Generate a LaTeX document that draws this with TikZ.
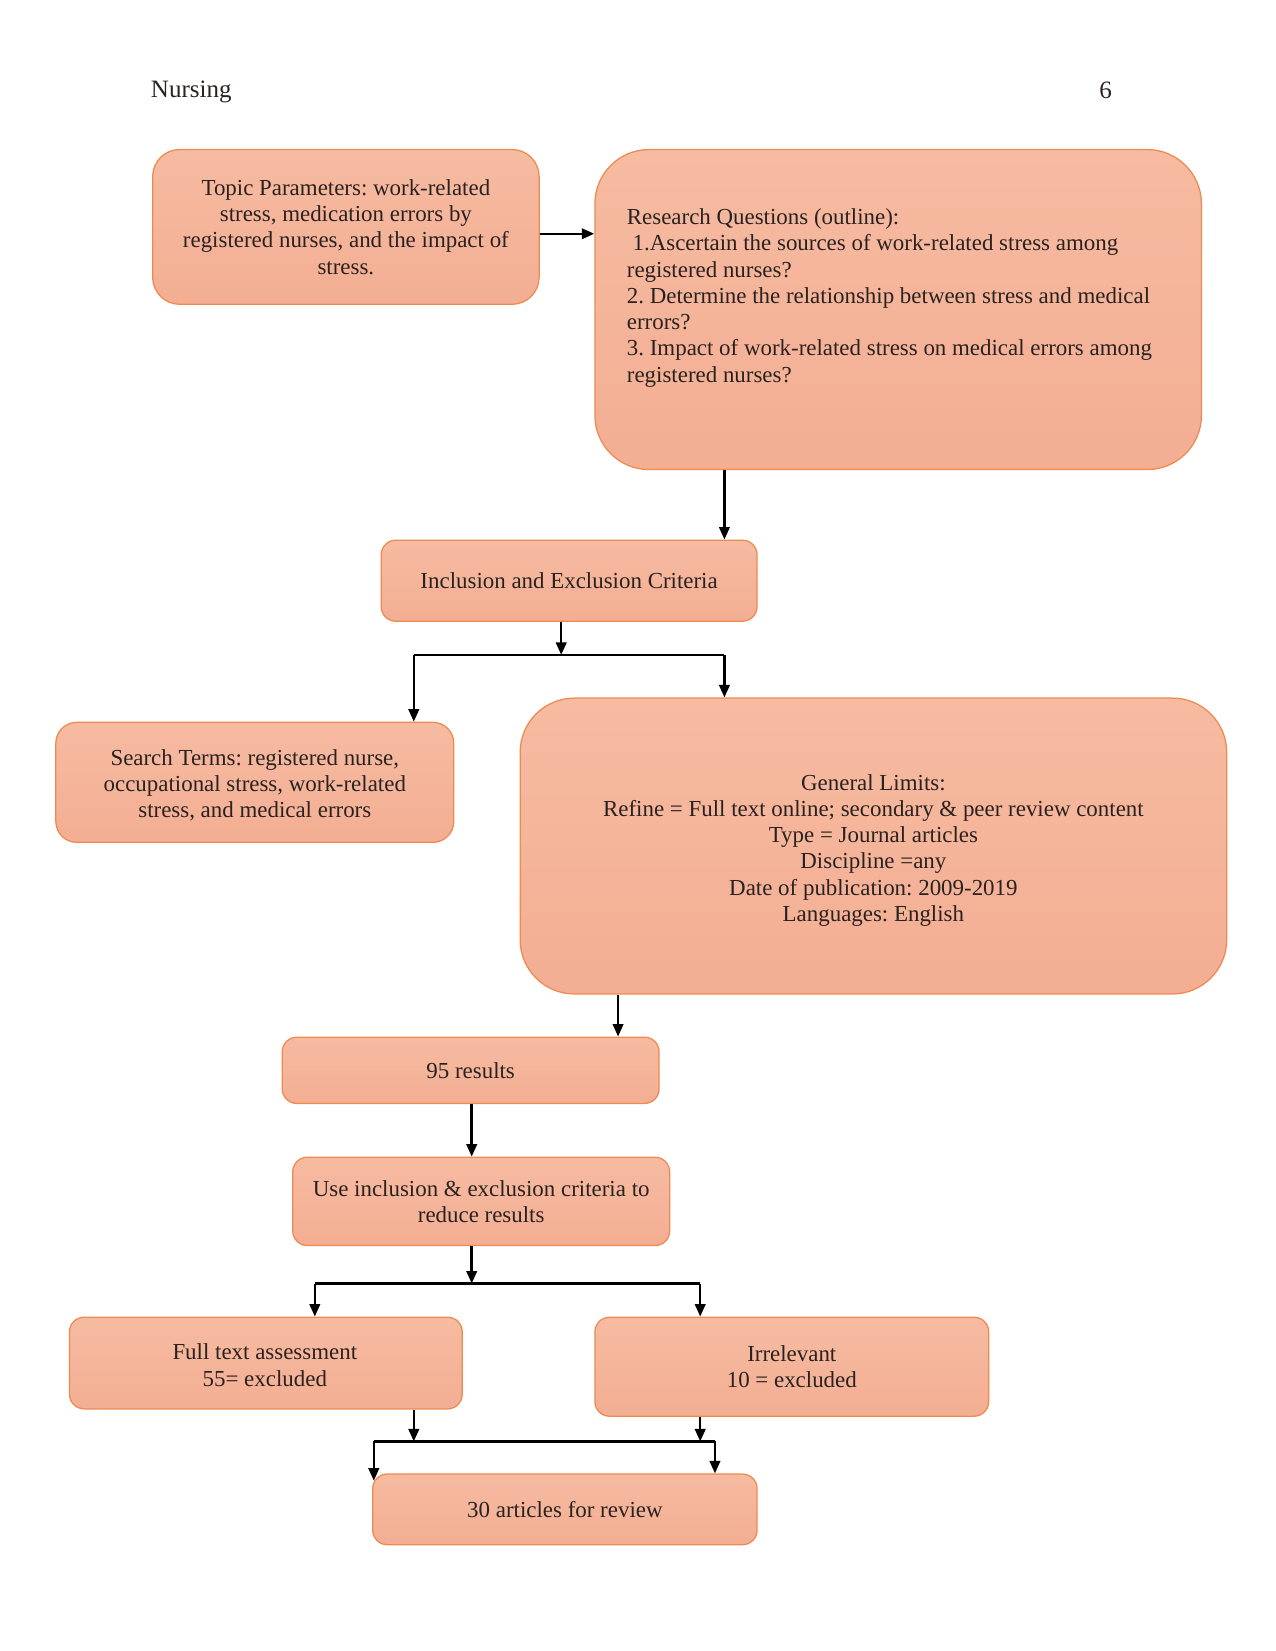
\documentclass[tikz,border=0pt]{standalone}
\usepackage{fontspec}
\setmainfont{Liberation Serif}
\usetikzlibrary{arrows.meta}
\frenchspacing
\definecolor{boxline}{HTML}{EE8A50}
\definecolor{boxtop}{HTML}{F6BBA1}
\definecolor{boxbot}{HTML}{F3AE93}
\definecolor{txt}{HTML}{2A2220}
\tikzset{
  box/.style={draw=boxline, line width=0.6pt, top color=boxtop, bottom color=boxbot,
    rounded corners=7pt, align=center, inner sep=0pt, text=txt,
    font=\fontsize{11}{12.6}\selectfont},
  bigbox/.style={box, rounded corners=26pt},
  plain/.style={text=txt, inner sep=0pt, font=\fontsize{11}{12.6}\selectfont},
  conn/.style={line width=1.2pt, black},
  arr/.style={conn, -{Triangle[length=6pt,width=5pt]}}
}
\begin{document}
\begin{tikzpicture}[x=0.50535pt, y=-0.50535pt]
\useasboundingbox (0,0) rectangle (1211,1568);
% header
\node[plain, font=\fontsize{12}{14}\selectfont, anchor=west] (hdl) at (143,87) {Nursing};
\node[plain, font=\fontsize{12}{14}\selectfont] (hdr) at (1050,86) {6};
% boxes
\node[box, rounded corners=13pt, minimum width=185.5pt, minimum height=74.3pt] (topic) at (328.5,215.5)
  {Topic Parameters: work-related\\stress, medication errors by\\registered nurses, and the impact of\\stress.};
\node[bigbox, minimum width=291.1pt, minimum height=153.6pt] (rq) at (853,294) {};
\node[plain, anchor=west, align=left] (rqt) at (595,283)
  {Research Questions (outline):\\
   \hspace{0.25em}1.Ascertain the sources of work-related stress among\\
   registered nurses?\\
   2. Determine the relationship between stress and medical\\
   errors?\\
   3. Impact of work-related stress on medical errors among\\
   registered nurses?};
\node[box, minimum width=180.4pt, minimum height=38.9pt] (incl) at (540.5,551.5)
  {Inclusion and Exclusion Criteria};
\node[box, rounded corners=10pt, minimum width=191pt, minimum height=57.6pt] (search) at (242,743) {};
\node[plain, align=center] (searcht) at (242,746)
  {Search Terms: registered nurse,\\occupational stress, work-related\\stress, and medical errors};
\node[bigbox, minimum width=339.1pt, minimum height=142pt] (gen) at (829.5,803.5) {};
\node[plain, align=center] (gent) at (829.5,807.5)
  {General Limits:\\Refine = Full text online; secondary \& peer review content\\Type = Journal articles\\Discipline =any\\Date of publication: 2009-2019\\Languages: English};
\node[box, minimum width=180.9pt, minimum height=31.8pt] (r95) at (447,1016.5) {95 results};
\node[box, minimum width=180.9pt, minimum height=42.4pt] (use) at (457,1141)
  {Use inclusion \& exclusion criteria to\\reduce results};
\node[box, minimum width=188.5pt, minimum height=44pt] (full) at (252.5,1294.5) {};
\node[plain, align=center] (fullt) at (251.5,1296.5)
  {Full text assessment\\55= excluded};
\node[box, minimum width=189pt, minimum height=47.5pt] (irr) at (752,1298)
  {Irrelevant\\10 = excluded};
\node[box, minimum width=184.5pt, minimum height=33.9pt] (art) at (536.5,1433.5)
  {30 articles for review};
% helper coordinates
\coordinate (h222) at (0,222);
\coordinate (c688) at (688,0);
\coordinate (j1) at (533,622);
\coordinate (a1) at (393,622);
\coordinate (a2) at (688,622);
\coordinate (c587) at (587,0);
\coordinate (c448) at (448,0);
\coordinate (j2) at (448,1219);
\coordinate (b1) at (299,1219);
\coordinate (b2) at (665,1219);
\coordinate (e1) at (393,1369);
\coordinate (e2) at (665,1369);
\coordinate (d1) at (355,1369);
\coordinate (d2) at (679,1369);
% connectors
\draw[arr] (topic.east |- h222) -- (rq.west |- h222);
\draw[arr] (rq.south -| c688) -- (incl.north -| c688);
\draw[arr] (incl.south -| j1) -- (j1);
\draw[conn] (a1) -- (a2);
\draw[arr] (a1) -- (search.north -| a1);
\draw[arr] (a2) -- (gen.north -| a2);
\draw[arr] (gen.south -| c587) -- (r95.north -| c587);
\draw[arr] (r95.south -| c448) -- (use.north -| c448);
\draw[arr] (use.south -| j2) -- (j2);
\draw[conn] (b1) -- (b2);
\draw[arr] (b1) -- (full.north -| b1);
\draw[arr] (b2) -- (irr.north -| b2);
\draw[arr] (full.south -| e1) -- (e1);
\draw[arr] (irr.south -| e2) -- (e2);
\draw[conn] (d1) -- (d2);
\draw[arr] (d1) -- ([yshift=-3.5pt]art.north -| d1);
\draw[arr] (d2) -- (art.north -| d2);
\end{tikzpicture}
\end{document}
